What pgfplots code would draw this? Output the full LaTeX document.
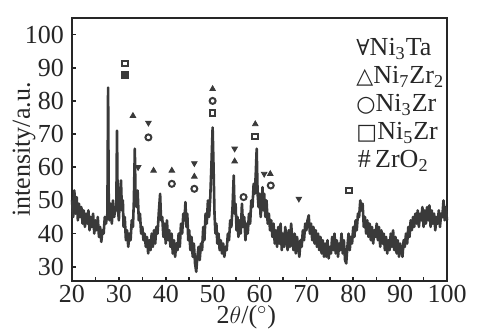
\documentclass[border=0pt]{standalone}
\usepackage{pgfplots}
\pgfplotsset{compat=1.18}
\usepackage{fontspec}
\setmainfont{Liberation Serif}
\newfontfamily\sym{DejaVu Serif}
\definecolor{ink}{HTML}{3A3A3A}
\newcommand{\symf}[1]{{\sym\fontsize{11}{13}\selectfont #1}}
\begin{document}
\fontsize{13}{15}\selectfont
\begin{tikzpicture}
\begin{axis}[name=ax, at={(0,0)}, anchor=south west, scale only axis,
  width=187.5pt, height=131.5pt,
  xmin=20, xmax=100, ymin=25.7, ymax=105,
  xtick={20,30,...,100}, minor xtick={25,35,...,95},
  ytick={30,40,...,100},
  tick pos=left, tick align=inside,
  major tick length=2pt, minor tick length=2pt,
  axis line style={line width=1pt, color=black!85},
  every tick/.style={black!85, line width=0.8pt},
  /pgf/number format/assume math mode=true,
  ticklabel style={font=\fontsize{13}{15}\selectfont, text=black!85},
  xticklabel style={yshift=2.5pt},
  yticklabel style={xshift=0.5pt},
  clip=false]
\addplot[ink, line width=1.3pt, line join=round] coordinates {
(20.00,50)(20.25,45)(20.50,53)(20.75,46)(21.00,51)(21.25,44)(21.50,49)(21.75,45)
(22.00,48)(22.25,43)(22.50,47)(22.75,42)(23.00,46)(23.25,43)(23.50,47)(23.75,41)
(24.00,45)(24.25,42)(24.50,46)(24.75,40)(25.00,44)(25.25,41)(25.50,45)(25.75,39)
(26.00,42)(26.25,37.5)(26.50,41)(26.75,40)(27.00,45)(27.25,43)(27.55,46)(27.70,84)
(27.85,47)(28.00,44)(28.25,49)(28.50,43)(28.75,50)(29.00,45)(29.25,48)(29.45,47)
(29.60,71)(29.75,48)(30.00,44)(30.25,52)(30.45,56)(30.65,47)(30.85,50)(31.00,42)
(31.25,45)(31.50,38)(31.75,41)(32.00,36)(32.25,40)(32.50,38)(32.75,44)(33.00,42)
(33.20,50)(33.40,65.6)(33.55,52)(33.75,48)(34.00,53)(34.25,44)(34.50,46)(34.75,40)
(35.00,42)(35.25,38)(35.50,40)(35.75,36)(36.00,39)(36.25,34)(36.50,38)(36.75,35)
(37.00,40)(37.25,36)(37.50,41)(37.75,37)(38.00,42)(38.25,40)(38.50,46)(38.80,52)
(39.00,44)(39.25,45)(39.50,39)(39.75,43)(40.00,37)(40.25,44)(40.50,38)(40.75,41)
(41.00,36)(41.25,40)(41.50,34)(41.75,38)(42.00,33)(42.25,37)(42.50,35)(42.75,40)
(43.00,36)(43.25,43)(43.50,40)(43.75,46)(44.00,44)(44.20,49.5)(44.40,42)(44.60,46)
(44.80,38)(45.00,41)(45.25,35)(45.50,39)(45.75,33)(46.00,37)(46.25,31)(46.50,28.5)
(46.75,33)(47.00,36)(47.25,32)(47.50,37)(47.75,35)(48.00,42)(48.25,38)(48.50,46)
(48.75,43)(49.00,50)(49.25,45)(49.50,51)(49.75,61)(50.00,72)(50.20,60)(50.40,46)
(50.60,40)(50.80,43)(51.00,37)(51.25,40)(51.50,35)(51.75,38)(52.00,34)(52.25,37)
(52.50,33)(52.75,36)(53.00,35)(53.25,40)(53.50,38)(53.75,44)(54.00,42)(54.25,48)
(54.50,57.5)(54.70,46)(54.90,49)(55.10,41)(55.30,45)(55.50,39)(55.75,44)(56.00,40)
(56.25,49)(56.50,42)(56.75,45)(57.00,38)(57.25,43)(57.50,40)(57.75,46)(58.00,43)
(58.25,50)(58.50,48)(58.75,55)(59.00,52)(59.20,58)(59.40,65.6)(59.60,52)(59.80,48)
(60.00,52)(60.25,45)(60.50,50)(60.65,54)(60.80,47)(61.00,52)(61.25,45)(61.50,50)
(61.75,43)(62.00,46)(62.25,41)(62.50,44)(62.75,39)(63.00,43)(63.25,37)(63.50,41)
(63.75,36)(64.00,42)(64.25,37)(64.50,43)(64.75,35)(65.00,40)(65.25,36)(65.50,42)
(65.75,38)(66.00,35)(66.25,41)(66.50,36)(66.75,43)(67.00,38)(67.25,35)(67.50,40)
(67.75,34)(68.00,39)(68.25,36)(68.50,33)(68.75,38)(69.00,36)(69.25,41)(69.50,38)
(69.75,43)(70.00,41)(70.25,44)(70.50,45.5)(70.75,40)(71.00,43)(71.25,38)(71.50,42)
(71.75,37)(72.00,41)(72.25,36)(72.50,40)(72.75,35)(73.00,39)(73.25,34)(73.50,38)
(73.75,33)(74.00,37)(74.25,33)(74.50,38)(74.75,32.5)(75.00,36)(75.25,34)(75.50,39)
(75.75,35)(76.00,40)(76.25,34)(76.50,38)(76.75,33)(77.00,37)(77.25,35)(77.50,40)
(77.75,34)(78.00,38)(78.25,32)(78.50,31)(78.75,36)(79.00,40)(79.25,35)(79.50,39)
(79.75,37)(80.00,42)(80.25,39)(80.50,44)(80.75,41)(81.00,46)(81.25,45)(81.50,50)
(81.75,47)(82.00,49)(82.25,42)(82.50,45)(82.75,40)(83.00,44)(83.25,39)(83.50,43)
(83.75,38)(84.00,42)(84.25,37)(84.50,41)(84.75,39)(85.00,43)(85.25,38)(85.50,42)
(85.75,36)(86.00,41)(86.25,37)(86.50,40)(86.75,35)(87.00,39)(87.25,34)(87.50,38)
(87.75,35)(88.00,40)(88.25,36)(88.50,41)(88.75,35)(89.00,39)(89.25,34)(89.50,38)
(89.75,33)(90.00,37)(90.25,35)(90.50,33)(90.75,38)(91.00,36)(91.25,40)(91.50,37)
(91.75,42)(92.00,39)(92.25,44)(92.50,41)(92.75,45)(93.00,42)(93.25,46)(93.50,43)
(93.75,47)(94.00,42)(94.25,46)(94.50,44)(94.75,48)(95.00,42)(95.25,47)(95.50,43)
(95.75,48)(96.00,44)(96.25,48.5)(96.50,42)(96.75,47)(97.00,43)(97.25,46)(97.50,41)
(97.75,45)(98.00,43)(98.25,47)(98.50,42)(98.75,46)(99.00,45)(99.25,50)(99.50,44)
(99.75,48)(100.0,44)
};
% Ni3Ta (down triangles)
\addplot[only marks, mark=triangle*, mark size=1.6pt, ink, mark options={rotate=180}] coordinates {
(34.1,60)(36.3,73.4)(46.1,61.2)(54.7,65.6)(61.0,58)(68.4,50.5)};
% Ni7Zr2 (triangles)
\addplot[only marks, mark=triangle*, mark size=1.6pt, ink] coordinates {
(33.0,75.5)(37.4,59)(41.3,59)(46.1,57.2)(50.0,83.6)(54.7,61.8)(59.1,73)(62.3,58)};
% Ni3Zr (circles)
\addplot[only marks, mark=o, mark size=1.5pt, ink, mark options={line width=1pt}] coordinates {
(36.3,69)(41.3,55)(46.1,53.5)(50.0,80)(56.6,51)(62.4,54.5)};
% Ni5Zr (squares)
\addplot[only marks, mark=square, mark size=1.4pt, ink, mark options={line width=1pt}] coordinates {
(31.3,91.3)(50.0,76.4)(59.1,69.3)(79.1,53)};
% ZrO2
\addplot[only marks, mark=square*, mark size=1.9pt, ink] coordinates {
(31.3,87.8)};
\node[anchor=base west, text=black!85, inner sep=0pt] at (axis cs:80.6,93.6) {\symf{∀}Ni\textsubscript{3}Ta};
\node[anchor=base west, text=black!85, inner sep=0pt] at (axis cs:80.6,85.2) {\symf{△}Ni\textsubscript{7}Zr\textsubscript{2}};
\node[anchor=base west, text=black!85, inner sep=0pt] at (axis cs:80.6,76.8) {\symf{○}Ni\textsubscript{3}Zr};
\node[anchor=base west, text=black!85, inner sep=0pt] at (axis cs:80.6,68.3) {\symf{□}Ni\textsubscript{5}Zr};
\node[anchor=base west, text=black!85, inner sep=0pt] at (axis cs:80.9,59.9) {\#\,ZrO\textsubscript{2}};
\end{axis}
\node[anchor=base, text=black!85, inner sep=0pt] at ([shift={(87.2pt,-21pt)}]ax.south west) {2$\theta$/($^\circ$)};
\node[rotate=90, anchor=center, text=black!85, inner sep=0pt] at ([shift={(-24pt,65.75pt)}]ax.south west) {intensity/a.u.};
\pgfresetboundingbox
\path ([shift={(-36pt,-23.5pt)}]ax.south west) rectangle ([shift={(20pt,9pt)}]ax.north east);
\end{tikzpicture}
\end{document}
